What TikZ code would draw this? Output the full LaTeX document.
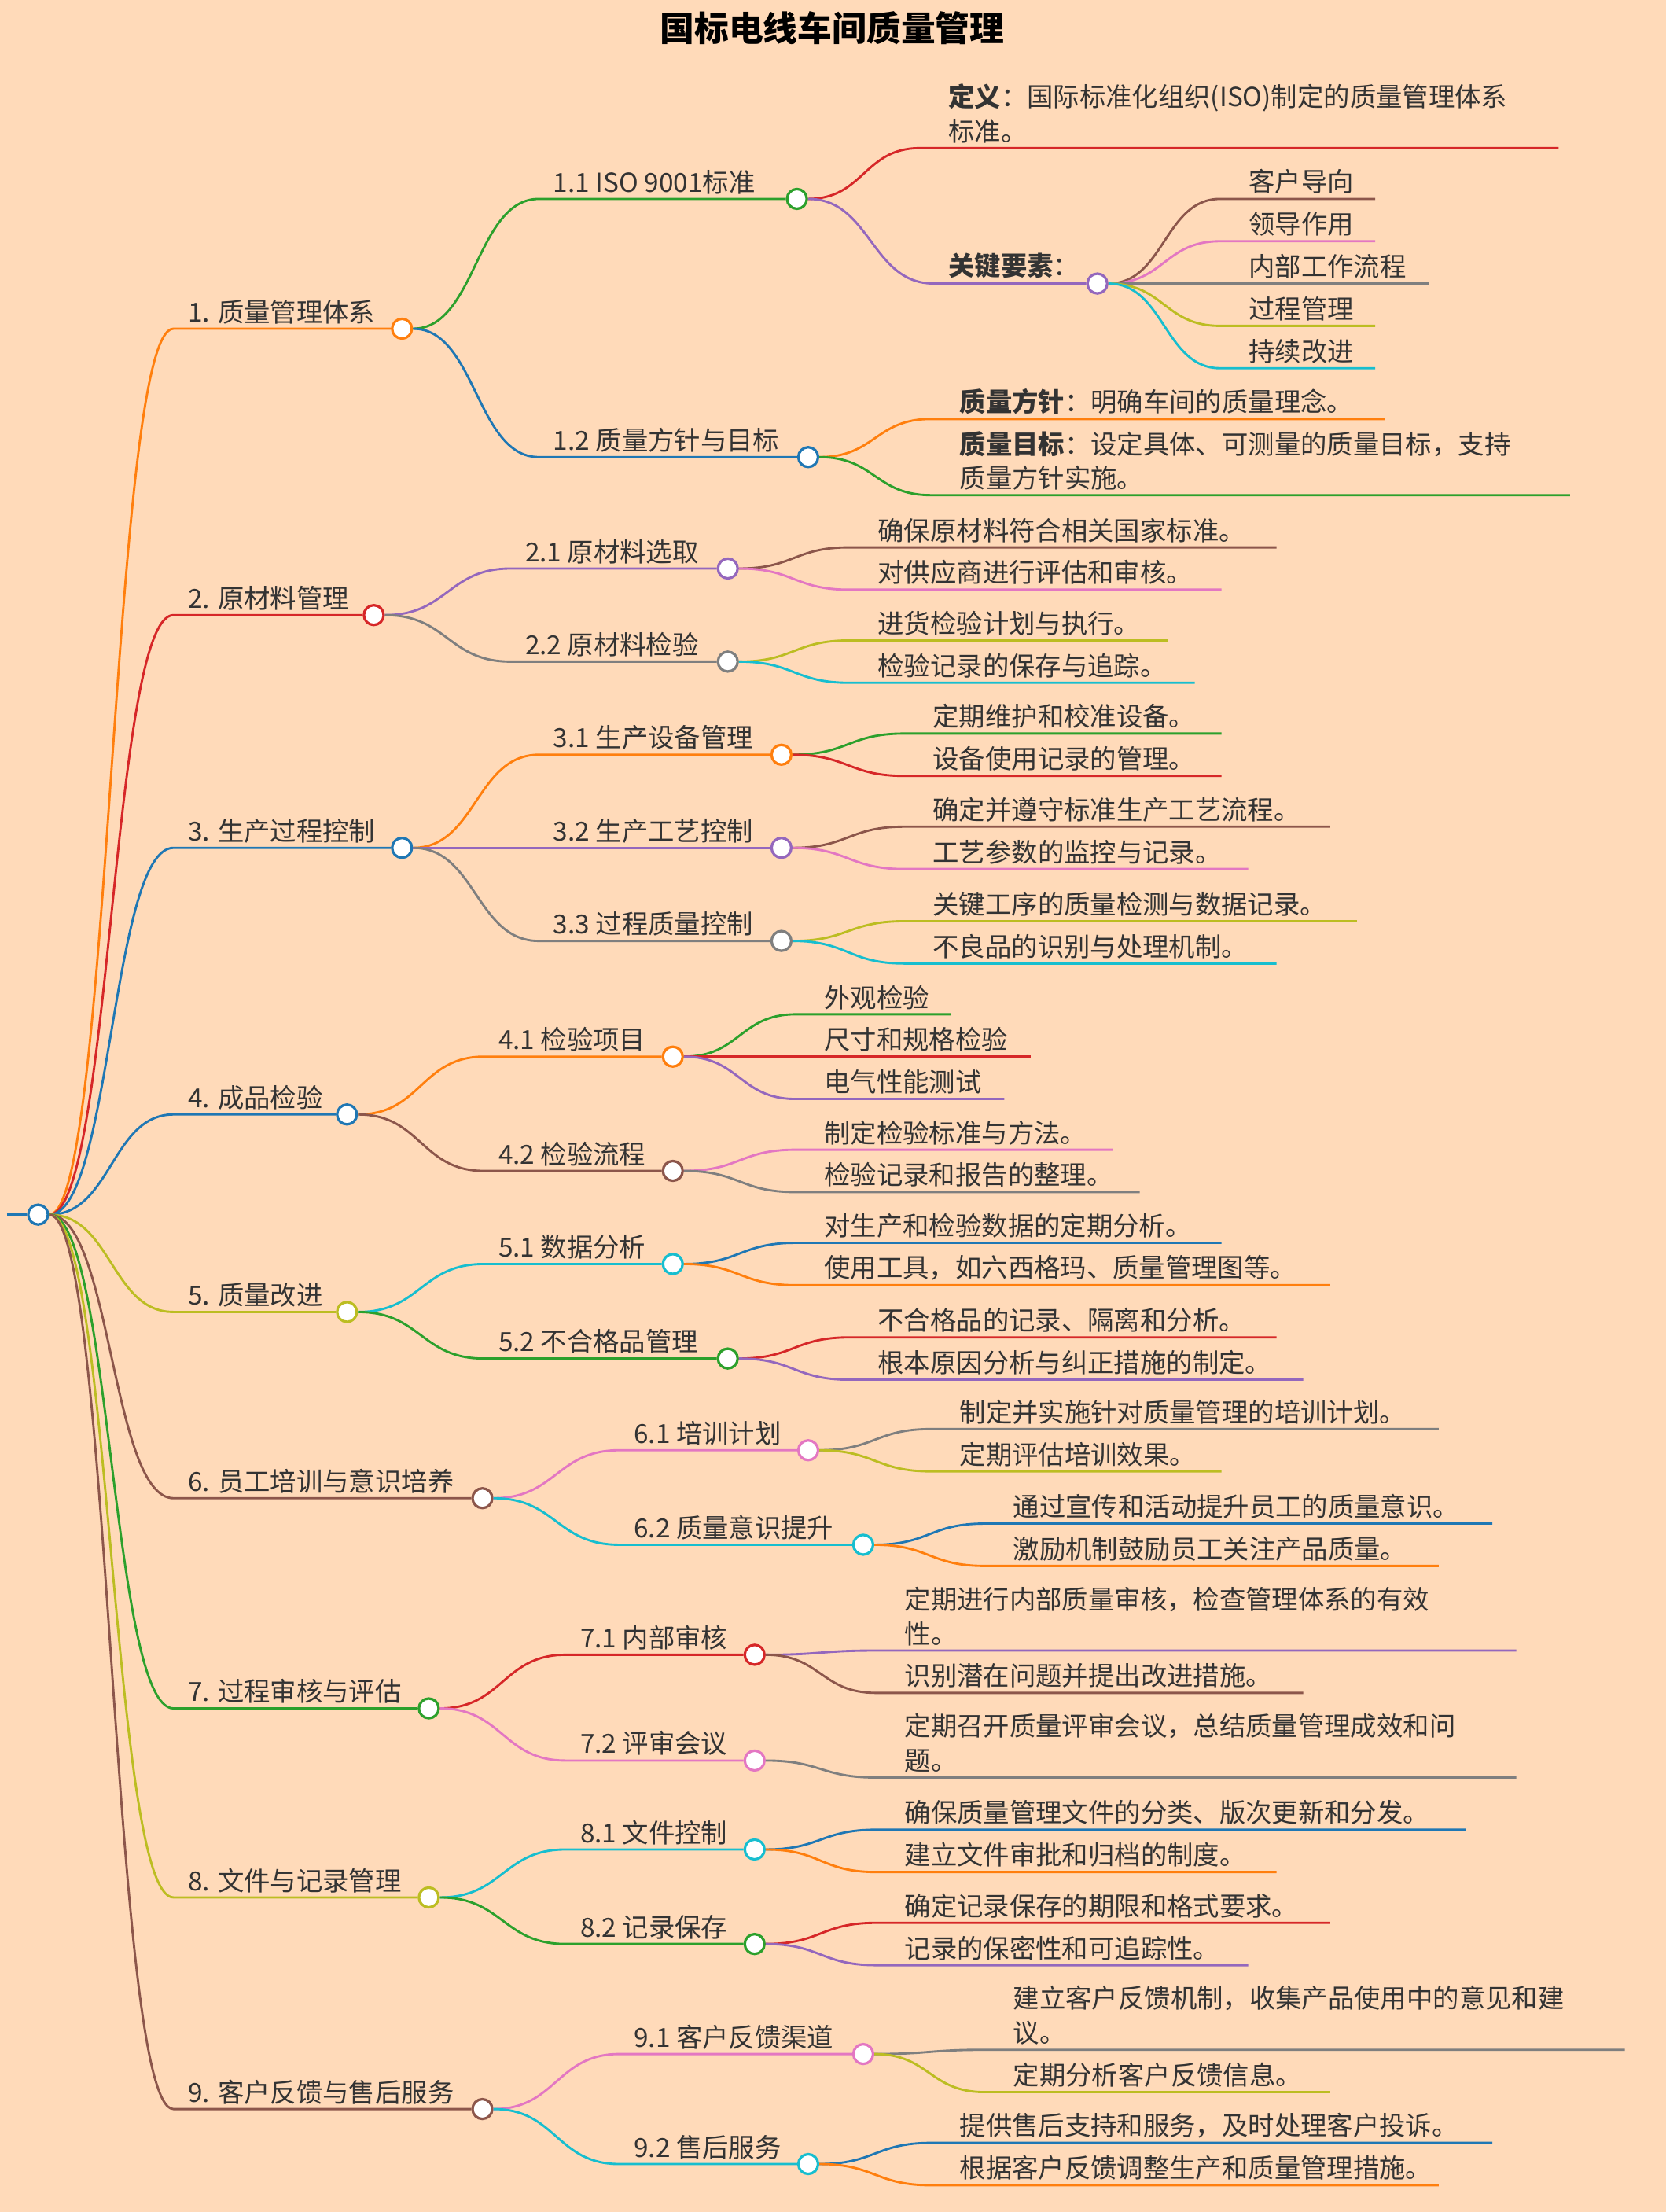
\documentclass[tikz,border=0pt]{standalone}
\usepackage{fontspec}
\setmainfont{Noto Sans CJK SC}
\usetikzlibrary{calc}
\definecolor{bg}{RGB}{255,218,185}
\definecolor{cblue}{HTML}{1F77B4}
\definecolor{corange}{HTML}{FF7F0E}
\definecolor{cgreen}{HTML}{2CA02C}
\definecolor{cred}{HTML}{D62728}
\definecolor{cpurple}{HTML}{9467BD}
\definecolor{cbrown}{HTML}{8C564B}
\definecolor{cpink}{HTML}{E377C2}
\definecolor{cgray}{HTML}{7F7F7F}
\definecolor{colive}{HTML}{BCBD22}
\definecolor{ccyan}{HTML}{17BECF}
\definecolor{txt}{HTML}{333333}
\tikzset{
  edge/.style={line width=0.8pt},
  dot/.style={circle,fill=white,line width=0.9pt,minimum size=7pt,inner sep=0pt},
  lbl/.style={anchor=south west,inner sep=0pt,text=txt,align=left,font=\fontsize{9.3}{12.2}\selectfont},
}
\newcommand\mmnode[7]{%
  \coordinate (#2s) at ({#3-10},#4);
  \node[lbl] (#2t) at (#3,{#4-3}) {#7};
  \node[dot,draw=#6] (#2) at (#5,#4) {};
  \draw[#6,edge] let \p1=(#1.east),\p2=(#2s) in (\p1) .. controls ({(\x1+\x2)/2},\y1) and ({(\x1+\x2)/2},\y2) .. (\p2) -- (#2.west);
}
\newcommand\mmleaf[7]{%
  \coordinate (#2s) at ({#3-20},#4);
  \coordinate (#2e) at (#5,#4);
  \node[lbl] (#2) at (#3,{#4-3}) {#7};
  \draw[#6,edge] let \p1=(#1.east),\p2=(#2s) in (\p1) .. controls ({(\x1+\x2)/2},\y1) and ({(\x1+\x2)/2},\y2) .. (\p2) -- (#2e);
}
\begin{document}
\begin{tikzpicture}[x=0.5pt,y=-0.5pt]
\fill[bg] (0,0) rectangle (1181,1568);
\useasboundingbox (0,0) rectangle (1181,1568);
\node[font=\bfseries\fontsize{12.2}{14}\selectfont,text=black] (title) at (590,20) {国标电线车间质量管理};
\coordinate (rs) at (5,861);
\node[dot,draw=cblue] (root) at (27,861) {};
\draw[cblue,edge] (rs) -- (root.west);
% level 1
\mmnode{root}{a}{133}{233}{285}{corange}{1. 质量管理体系}
\mmnode{root}{b}{133}{436}{265}{cred}{2. 原材料管理}
\mmnode{root}{c}{133}{601}{285}{cblue}{3. 生产过程控制}
\mmnode{root}{d}{133}{790}{246}{cblue}{4. 成品检验}
\mmnode{root}{e}{133}{930}{246}{colive}{5. 质量改进}
\mmnode{root}{f}{133}{1062}{342}{cbrown}{6. 员工培训与意识培养}
\mmnode{root}{g}{133}{1211}{304}{cgreen}{7. 过程审核与评估}
\mmnode{root}{h}{133}{1345}{304}{colive}{8. 文件与记录管理}
\mmnode{root}{i}{133}{1495}{342}{cbrown}{9. 客户反馈与售后服务}
% level 2
\mmnode{a}{aa}{392}{141}{565}{cgreen}{1.1 ISO 9001标准}
\mmnode{a}{ab}{392}{324}{573}{cblue}{1.2 质量方针与目标}
\mmnode{b}{ba}{372}{403}{516}{cpurple}{2.1 原材料选取}
\mmnode{b}{bb}{372}{469}{516}{cgray}{2.2 原材料检验}
\mmnode{c}{ca}{392}{535}{554}{corange}{3.1 生产设备管理}
\mmnode{c}{cb}{392}{601}{554}{cpurple}{3.2 生产工艺控制}
\mmnode{c}{cc}{392}{667}{554}{cgray}{3.3 过程质量控制}
\mmnode{d}{da}{353}{749}{477}{corange}{4.1 检验项目}
\mmnode{d}{db}{353}{830}{477}{cbrown}{4.2 检验流程}
\mmnode{e}{ea}{353}{896}{477}{ccyan}{5.1 数据分析}
\mmnode{e}{eb}{353}{963}{516}{cgreen}{5.2 不合格品管理}
\mmnode{f}{fa}{449}{1028}{573}{cpink}{6.1 培训计划}
\mmnode{f}{fb}{449}{1095}{612}{ccyan}{6.2 质量意识提升}
\mmnode{g}{ga}{411}{1173}{535}{cred}{7.1 内部审核}
\mmnode{g}{gb}{411}{1248}{535}{cpink}{7.2 评审会议}
\mmnode{h}{ha}{411}{1311}{535}{ccyan}{8.1 文件控制}
\mmnode{h}{hb}{411}{1378}{535}{cgreen}{8.2 记录保存}
\mmnode{i}{ia}{449}{1456}{612}{cpink}{9.1 客户反馈渠道}
\mmnode{i}{ib}{449}{1534}{573}{ccyan}{9.2 售后服务}
% level 3
\mmleaf{aa}{aa1}{672}{105}{1105}{cred}{\textbf{定义}：国际标准化组织(ISO)制定的质量管理体系\\标准。}
\mmnode{aa}{aa2}{672}{201}{778}{cpurple}{\textbf{关键要素}：}
\mmleaf{aa2}{k1}{885}{141}{975}{cbrown}{客户导向}
\mmleaf{aa2}{k2}{885}{171}{975}{cpink}{领导作用}
\mmleaf{aa2}{k3}{885}{201}{1013}{cgray}{内部工作流程}
\mmleaf{aa2}{k4}{885}{231}{975}{colive}{过程管理}
\mmleaf{aa2}{k5}{885}{261}{975}{ccyan}{持续改进}
\mmleaf{ab}{ab1}{680}{297}{982}{corange}{\textbf{质量方针}：明确车间的质量理念。}
\mmleaf{ab}{ab2}{680}{351}{1113}{cgreen}{\textbf{质量目标}：设定具体、可测量的质量目标，支持\\质量方针实施。}
\mmleaf{ba}{ba1}{622}{388}{905}{cbrown}{确保原材料符合相关国家标准。}
\mmleaf{ba}{ba2}{622}{418}{866}{cpink}{对供应商进行评估和审核。}
\mmleaf{bb}{bb1}{622}{454}{828}{colive}{进货检验计划与执行。}
\mmleaf{bb}{bb2}{622}{484}{847}{ccyan}{检验记录的保存与追踪。}
\mmleaf{ca}{ca1}{661}{520}{866}{cgreen}{定期维护和校准设备。}
\mmleaf{ca}{ca2}{661}{550}{866}{cred}{设备使用记录的管理。}
\mmleaf{cb}{cb1}{661}{586}{943}{cbrown}{确定并遵守标准生产工艺流程。}
\mmleaf{cb}{cb2}{661}{616}{885}{cpink}{工艺参数的监控与记录。}
\mmleaf{cc}{cc1}{661}{653}{962}{colive}{关键工序的质量检测与数据记录。}
\mmleaf{cc}{cc2}{661}{683}{905}{ccyan}{不良品的识别与处理机制。}
\mmleaf{da}{da1}{584}{719}{674}{cgreen}{外观检验}
\mmleaf{da}{da2}{584}{749}{731}{cred}{尺寸和规格检验}
\mmleaf{da}{da3}{584}{779}{712}{cpurple}{电气性能测试}
\mmleaf{db}{db1}{584}{815}{789}{cpink}{制定检验标准与方法。}
\mmleaf{db}{db2}{584}{845}{808}{cgray}{检验记录和报告的整理。}
\mmleaf{ea}{ea1}{584}{881}{866}{cblue}{对生产和检验数据的定期分析。}
\mmleaf{ea}{ea2}{584}{911}{943}{corange}{使用工具，如六西格玛、质量管理图等。}
\mmleaf{eb}{eb1}{622}{948}{905}{cred}{不合格品的记录、隔离和分析。}
\mmleaf{eb}{eb2}{622}{978}{924}{cpurple}{根本原因分析与纠正措施的制定。}
\mmleaf{fa}{fa1}{680}{1013}{1020}{cgray}{制定并实施针对质量管理的培训计划。}
\mmleaf{fa}{fa2}{680}{1043}{866}{colive}{定期评估培训效果。}
\mmleaf{fb}{fb1}{718}{1080}{1058}{cblue}{通过宣传和活动提升员工的质量意识。}
\mmleaf{fb}{fb2}{718}{1110}{1020}{corange}{激励机制鼓励员工关注产品质量。}
\mmleaf{ga}{ga1}{641}{1170}{1075}{cpurple}{定期进行内部质量审核，检查管理体系的有效\\性。}
\mmleaf{ga}{ga2}{641}{1200}{924}{cbrown}{识别潜在问题并提出改进措施。}
\mmleaf{gb}{gb1}{641}{1260}{1075}{cgray}{定期召开质量评审会议，总结质量管理成效和问\\题。}
\mmleaf{ha}{ha1}{641}{1297}{1039}{cblue}{确保质量管理文件的分类、版次更新和分发。}
\mmleaf{ha}{ha2}{641}{1327}{905}{corange}{建立文件审批和归档的制度。}
\mmleaf{hb}{hb1}{641}{1363}{943}{cred}{确定记录保存的期限和格式要求。}
\mmleaf{hb}{hb2}{641}{1393}{885}{cpurple}{记录的保密性和可追踪性。}
\mmleaf{ia}{ia1}{718}{1453}{1152}{cgray}{建立客户反馈机制，收集产品使用中的意见和建\\议。}
\mmleaf{ia}{ia2}{718}{1483}{943}{colive}{定期分析客户反馈信息。}
\mmleaf{ib}{ib1}{680}{1519}{1058}{cblue}{提供售后支持和服务，及时处理客户投诉。}
\mmleaf{ib}{ib2}{680}{1549}{1020}{corange}{根据客户反馈调整生产和质量管理措施。}
\end{tikzpicture}
\end{document}
